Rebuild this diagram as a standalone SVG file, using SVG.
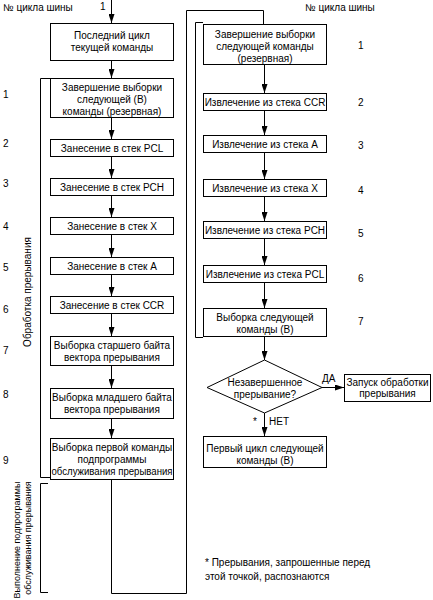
<svg xmlns="http://www.w3.org/2000/svg" width="433" height="600" viewBox="0 0 433 600">
<style>
text{font-family:"Liberation Sans",Arial,sans-serif;font-size:10px;fill:#000}
.c{text-anchor:middle}
.box{fill:#fff;stroke:#000;stroke-width:1}
.ln{fill:none;stroke:#000;stroke-width:1}
.ar{fill:none;stroke:#000;stroke-width:1;marker-end:url(#ah)}
</style>
<defs>
<marker id="ah" viewBox="0 0 9 6" refX="9" refY="3" markerWidth="9" markerHeight="6" markerUnits="userSpaceOnUse" orient="auto"><path d="M0,0 L9,3 L0,6 z" fill="#000"/></marker>
</defs>
<rect width="433" height="600" fill="#fff"/>

<g id="labels">
<text x="3" y="11">№ цикла шины</text>
<text x="100" y="10">1</text>
<text x="305" y="11">№ цикла шины</text>
<text x="3" y="98">1</text>
<text x="3" y="147">2</text>
<text x="3" y="187">3</text>
<text x="3" y="230">4</text>
<text x="3" y="271">5</text>
<text x="3" y="313">6</text>
<text x="3" y="354">7</text>
<text x="3" y="398">8</text>
<text x="3" y="464">9</text>
<text x="358" y="49">1</text>
<text x="358" y="106">2</text>
<text x="358" y="149">3</text>
<text x="358" y="194">4</text>
<text x="358" y="237">5</text>
<text x="358" y="282">6</text>
<text x="358" y="325">7</text>
<text class="c" transform="translate(31,292) rotate(-90)">Обработка прерывания</text>
<text class="c" style="font-size:9px" transform="translate(20,540) rotate(-90)">Выполнение подпрограммы</text>
<text class="c" style="font-size:9px" transform="translate(31,538) rotate(-90)">обслуживания прерывания</text>
<text x="205" y="566">* Прерывания, запрошенные перед</text>
<text x="205" y="580">этой точкой, распознаются</text>
<text x="322" y="382">ДА</text>
<text x="253" y="425">*</text>
<text x="269" y="425">НЕТ</text>
</g>

<g id="brackets">
<path class="ln" d="M50,78.5 H40.5 V477.5 H50"/>
<path class="ln" d="M48,483.5 H40.5 V592.5 H48"/>
<path class="ln" d="M203,22.5 H195.5 V337.5 H203"/>
</g>

<g id="connectors">
<line class="ar" x1="111.5" y1="0" x2="111.5" y2="23"/>
<line class="ar" x1="111.5" y1="60" x2="111.5" y2="78"/>
<line class="ar" x1="111.5" y1="118" x2="111.5" y2="139"/>
<line class="ar" x1="111.5" y1="156" x2="111.5" y2="178"/>
<line class="ar" x1="111.5" y1="195" x2="111.5" y2="217"/>
<line class="ar" x1="111.5" y1="234" x2="111.5" y2="257"/>
<line class="ar" x1="111.5" y1="274" x2="111.5" y2="296"/>
<line class="ar" x1="111.5" y1="313" x2="111.5" y2="336"/>
<line class="ar" x1="111.5" y1="365" x2="111.5" y2="388"/>
<line class="ar" x1="111.5" y1="418" x2="111.5" y2="438"/>
<path class="ln" d="M111.5,479 V593.5 H186.5 V10.5 H263.5 V24"/>
<line class="ar" x1="264.5" y1="64" x2="264.5" y2="93"/>
<line class="ar" x1="264.5" y1="110" x2="264.5" y2="135"/>
<line class="ar" x1="264.5" y1="153" x2="264.5" y2="179"/>
<line class="ar" x1="264.5" y1="196" x2="264.5" y2="221"/>
<line class="ar" x1="264.5" y1="238" x2="264.5" y2="265"/>
<line class="ar" x1="264.5" y1="283" x2="264.5" y2="308"/>
<line class="ar" x1="264.5" y1="336" x2="264.5" y2="360"/>
<line class="ar" x1="264.5" y1="413" x2="264.5" y2="436"/>
<line class="ar" x1="322" y1="387.5" x2="344" y2="387.5"/>
</g>

<g id="n0"><rect class="box" x="50.5" y="23.5" width="123" height="37"/>
<text class="c" x="112" y="39">Последний цикл</text><text class="c" x="112" y="51">текущей команды</text></g>
<g id="n1"><rect class="box" x="50.5" y="78.5" width="123" height="39"/>
<text class="c" x="112" y="91">Завершение выборки</text><text class="c" x="112" y="103">следующей (В)</text><text class="c" x="112" y="115">команды (резервная)</text></g>
<g id="n2"><rect class="box" x="50.5" y="139.5" width="123" height="17"/><text class="c" x="112" y="151.5">Занесение в стек PCL</text></g>
<g id="n3"><rect class="box" x="50.5" y="178.5" width="123" height="17"/><text class="c" x="112" y="190.5">Занесение в стек PCH</text></g>
<g id="n4"><rect class="box" x="50.5" y="217.5" width="123" height="17"/><text class="c" x="112" y="229.5">Занесение в стек Х</text></g>
<g id="n5"><rect class="box" x="50.5" y="257.5" width="123" height="17"/><text class="c" x="112" y="269.5">Занесение в стек А</text></g>
<g id="n6"><rect class="box" x="50.5" y="296.5" width="123" height="17"/><text class="c" x="112" y="308.5">Занесение в стек CCR</text></g>
<g id="n7"><rect class="box" x="50.5" y="336.5" width="123" height="29"/>
<text class="c" x="112" y="349">Выборка старшего байта</text><text class="c" x="112" y="361">вектора прерывания</text></g>
<g id="n8"><rect class="box" x="50.5" y="388.5" width="123" height="30"/>
<text class="c" x="112" y="401">Выборка младшего байта</text><text class="c" x="112" y="413">вектора прерывания</text></g>
<g id="n9"><rect class="box" x="50.5" y="438.5" width="123" height="41"/>
<text class="c" x="112" y="451">Выборка первой команды</text><text class="c" x="112" y="463">подпрограммы</text><text class="c" x="112" y="475" textLength="121" lengthAdjust="spacingAndGlyphs">обслуживания прерывания</text></g>

<g id="r1"><rect class="box" x="203.5" y="24.5" width="123" height="40"/>
<text class="c" x="265" y="38">Завершение выборки</text><text class="c" x="265" y="50">следующей команды</text><text class="c" x="265" y="62">(резервная)</text></g>
<g id="r2"><rect class="box" x="203.5" y="93.5" width="123" height="17"/><text class="c" x="265" y="105.5">Извлечение из стека CCR</text></g>
<g id="r3"><rect class="box" x="203.5" y="135.5" width="123" height="17"/><text class="c" x="265" y="147.5">Извлечение из стека А</text></g>
<g id="r4"><rect class="box" x="203.5" y="179.5" width="123" height="17"/><text class="c" x="265" y="191.5">Извлечение из стека Х</text></g>
<g id="r5"><rect class="box" x="203.5" y="221.5" width="123" height="17"/><text class="c" x="265" y="233.5">Извлечение из стека PCH</text></g>
<g id="r6"><rect class="box" x="203.5" y="265.5" width="123" height="17"/><text class="c" x="265" y="277.5">Извлечение из стека PCL</text></g>
<g id="r7"><rect class="box" x="203.5" y="308.5" width="123" height="28"/>
<text class="c" x="265" y="321">Выборка следующей</text><text class="c" x="265" y="333">команды (В)</text></g>
<g id="d1"><path class="box" d="M264.5,360 L322,387.5 L264.5,413 L207,387.5 Z"/>
<text class="c" x="265" y="386">Незавершенное</text><text class="c" x="265" y="398">прерывание?</text></g>
<g id="r8"><rect class="box" x="344.5" y="374.5" width="86" height="27"/>
<text class="c" x="387.5" y="386">Запуск обработки</text><text class="c" x="387.5" y="397">прерывания</text></g>
<g id="r9"><rect class="box" x="203.5" y="436.5" width="123" height="31"/>
<text class="c" x="265" y="452">Первый цикл следующей</text><text class="c" x="265" y="464">команды (В)</text></g>
</svg>
